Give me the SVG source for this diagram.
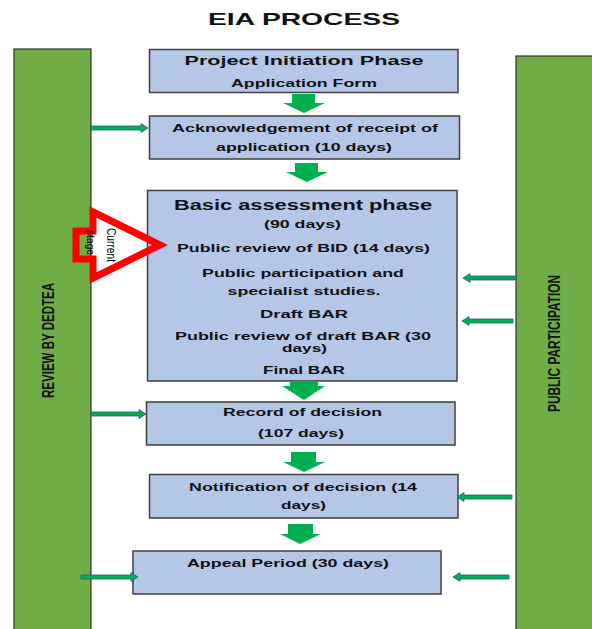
<svg xmlns="http://www.w3.org/2000/svg" width="592" height="629" viewBox="0 0 592 629">
<style>
.bar{fill:#70AD47;stroke:#333;stroke-width:1.2}
.box{fill:#B4C7E7;stroke:#404040;stroke-width:1.5}
.t{font-family:"Liberation Sans",Arial,sans-serif;font-weight:bold;fill:#111;text-anchor:middle;font-size:11px}
.h{font-size:13.5px}
.v{font-family:"Liberation Sans Narrow","Liberation Sans",Arial,sans-serif;font-weight:bold;fill:#111;text-anchor:middle;font-size:16px}
.c{font-family:"Liberation Sans Narrow","Liberation Sans",Arial,sans-serif;fill:#000;text-anchor:middle}
.down{fill:#00B050}
.side{fill:#00B050;stroke:#2F5597;stroke-width:0.8}
</style>
<rect width="592" height="629" fill="#fff"/>
<text class="t" x="304" y="25" style="font-size:17px" textLength="192" lengthAdjust="spacingAndGlyphs">EIA PROCESS</text>

<g id="review-bar">
<rect class="bar" x="14" y="49" width="77" height="590"/>
<text class="v" transform="translate(54,340.5) rotate(-90)" textLength="115" lengthAdjust="spacingAndGlyphs">REVIEW BY DEDTEA</text>
</g>
<g id="public-bar">
<rect class="bar" x="516" y="56" width="90" height="590"/>
<text class="v" transform="translate(560,343.5) rotate(-90)" textLength="137" lengthAdjust="spacingAndGlyphs">PUBLIC PARTICIPATION</text>
</g>

<g id="n1">
<rect class="box" x="149.5" y="49.5" width="308.5" height="43"/>
<text class="t h" x="304" y="65" textLength="239" lengthAdjust="spacingAndGlyphs">Project Initiation Phase</text>
<text class="t" x="304" y="87" textLength="146" lengthAdjust="spacingAndGlyphs">Application  Form</text>
</g>
<g id="n2">
<rect class="box" x="149.5" y="116" width="310" height="43"/>
<text class="t" x="305" y="132" textLength="266" lengthAdjust="spacingAndGlyphs">Acknowledgement of receipt of</text>
<text class="t" x="304" y="151" textLength="176" lengthAdjust="spacingAndGlyphs">application (10 days)</text>
</g>
<g id="n3">
<rect class="box" x="147.5" y="190.5" width="309.5" height="190.5"/>
<text class="t h" x="303" y="210" style="font-size:14px" textLength="258" lengthAdjust="spacingAndGlyphs">Basic assessment phase</text>
<text class="t" x="302.5" y="228" textLength="77" lengthAdjust="spacingAndGlyphs">(90 days)</text>
<text class="t" x="303.5" y="252" textLength="253" lengthAdjust="spacingAndGlyphs">Public review of BID (14 days)</text>
<text class="t" x="303" y="277" textLength="202" lengthAdjust="spacingAndGlyphs">Public participation and</text>
<text class="t" x="304" y="295" textLength="153" lengthAdjust="spacingAndGlyphs">specialist studies.</text>
<text class="t" x="304" y="318" textLength="88" lengthAdjust="spacingAndGlyphs">Draft  BAR</text>
<text class="t" x="303" y="340" textLength="256" lengthAdjust="spacingAndGlyphs">Public review of draft BAR (30</text>
<text class="t" x="304.5" y="352" textLength="45" lengthAdjust="spacingAndGlyphs">days)</text>
<text class="t" x="304" y="374" textLength="82" lengthAdjust="spacingAndGlyphs">Final BAR</text>
</g>
<g id="n4">
<rect class="box" x="146.5" y="402" width="308.5" height="43"/>
<text class="t" x="302.5" y="416" textLength="159" lengthAdjust="spacingAndGlyphs">Record of decision</text>
<text class="t" x="301" y="437" textLength="86" lengthAdjust="spacingAndGlyphs">(107 days)</text>
</g>
<g id="n5">
<rect class="box" x="149.5" y="474.5" width="308.5" height="43.5"/>
<text class="t" x="303" y="491" textLength="228" lengthAdjust="spacingAndGlyphs">Notification of decision (14</text>
<text class="t" x="303.5" y="509" textLength="45" lengthAdjust="spacingAndGlyphs">days)</text>
</g>
<g id="n6">
<rect class="box" x="133" y="551" width="308" height="43"/>
<text class="t" x="288" y="567" textLength="202" lengthAdjust="spacingAndGlyphs">Appeal Period (30 days)</text>
</g>

<g id="connectors">
<polygon class="down" points="292,94 315,94 315,103 325,103 304,113 283,103 292,103"/>
<polygon class="down" points="295,163 318,163 318,172 328,172 307,182 286,172 295,172"/>
<polygon class="down" points="290,381 318,381 318,386 325,386 304,400 282,386 290,386"/>
<polygon class="down" points="291,452 316,452 316,462 325,462 304,472 283,462 291,462"/>
<polygon class="down" points="288,524 313,524 313,534 321,534 300,544 280,534 288,534"/>

<polygon class="side" points="91,126 141,126 141,123.5 148,128 141,132.5 141,130 91,130"/>
<polygon class="side" points="91,412 139,412 139,409.5 146,414 139,418.5 139,416 91,416"/>
<polygon class="side" points="81,575 131,575 131,572.5 138,577 131,581.5 131,579 81,579"/>
<polygon class="side" points="515,276 470,276 470,273.5 463,278 470,282.5 470,280 515,280"/>
<polygon class="side" points="513,319 469,319 469,316.5 462,321 469,325.5 469,323 513,323"/>
<polygon class="side" points="512,495 464,495 464,492.5 457,497 464,501.5 464,499 512,499"/>
<polygon class="side" points="509,575 460,575 460,572.5 453,577 460,581.5 460,579 509,579"/>
</g>

<g id="current-stage">
<polygon points="76,231 93,231 93,212 160,245 93,278 93,259 76,259" fill="none" stroke="#FF0000" stroke-width="7" stroke-miterlimit="10"/>
<text class="c" transform="translate(107,245) rotate(90)" style="font-size:13.5px" textLength="34" lengthAdjust="spacingAndGlyphs">Current</text>
<text class="c" transform="translate(87,242.5) rotate(90)" style="font-size:10.5px" textLength="25" lengthAdjust="spacingAndGlyphs">stage</text>
</g>
</svg>
